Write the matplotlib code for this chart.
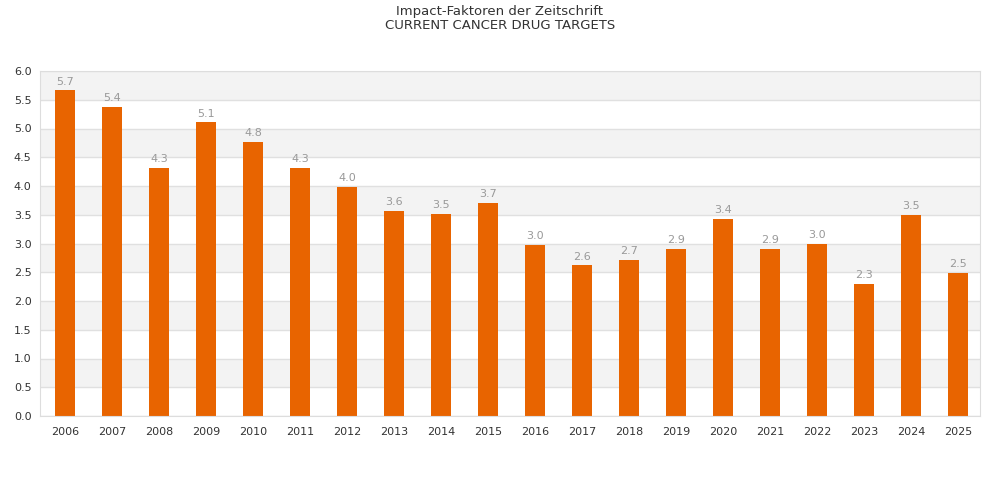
import matplotlib.pyplot as plt
import numpy as np

years = [str(y) for y in range(2006, 2026)]
impact = [5.67, 5.38, 4.32, 5.11, 4.77, 4.32, 3.99, 3.57, 3.52, 3.71,
          2.98, 2.62, 2.72, 2.91, 3.43, 2.91, 3.00, 2.30, 3.50, 2.49]
labels = ["5.7", "5.4", "4.3", "5.1", "4.8", "4.3", "4.0", "3.6", "3.5", "3.7",
          "3.0", "2.6", "2.7", "2.9", "3.4", "2.9", "3.0", "2.3", "3.5", "2.5"]

fig = plt.figure(figsize=(10, 5), dpi=100)
ax = fig.add_axes([0.04, 0.168, 0.94, 0.69])

# alternating background bands
for k in range(12):
    if k % 2 == 1:
        ax.axhspan(k * 0.5, (k + 1) * 0.5, color="#f3f3f3", zorder=0, lw=0)
for k in range(13):
    ax.axhline(k * 0.5, color="#e0e0e0", lw=1, zorder=1)

x = np.arange(len(years))
ax.bar(x, impact, width=0.43, color="#e86400", zorder=2)
for xi, v, lab in zip(x, impact, labels):
    ax.text(xi, v + 0.06, lab, ha="center", va="bottom", fontsize=8, color="#999999")

ax.set_xlim(-0.53, 19.47)
ax.set_ylim(0, 6)
ax.set_yticks(np.arange(0, 6.01, 0.5))
ax.set_yticklabels([f"{t:.1f}" for t in np.arange(0, 6.01, 0.5)])
ax.set_xticks(x)
ax.set_xticklabels(years)
ax.tick_params(length=0, labelsize=8, colors="#333333", pad=6)
ax.tick_params(axis="x", pad=8)
for s in ax.spines.values():
    s.set_color("#dddddd")

fig.text(0.5, 0.976, "Impact-Faktoren der Zeitschrift", ha="center", va="center",
         fontsize=9.5, color="#333333")
fig.text(0.5, 0.949, "CURRENT CANCER DRUG TARGETS", ha="center", va="center",
         fontsize=9.5, color="#333333")

fig.savefig("out.png", dpi=100)
